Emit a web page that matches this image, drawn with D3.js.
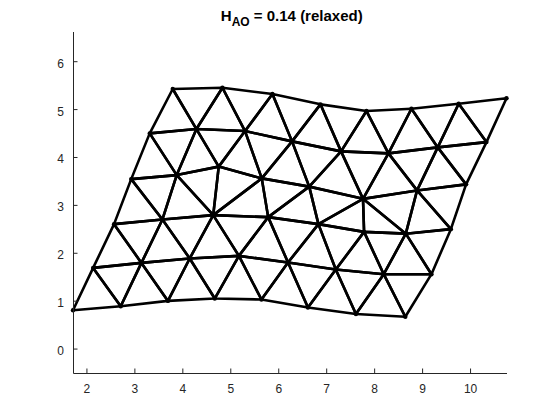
<!DOCTYPE html>
<html>
<head>
<meta charset="utf-8">
<script src="https://cdn.jsdelivr.net/npm/d3@7"></script>
<style>
  html, body { margin: 0; padding: 0; background: #fff; }
  svg { display: block; }
  text { font-family: Arial, "Liberation Sans", Helvetica, sans-serif; }
</style>
</head>
<body>
<svg id="chart" width="560" height="420"></svg>
<script>
// Node positions, 6 rows x 8 columns (row 0 = bottom)
const row0X = [1.72, 2.715, 3.70, 4.676, 5.65, 6.62, 7.62, 8.65];
const row0Y = [0.80, 0.884, 0.995, 1.045, 1.024, 0.857, 0.723, 0.665];
const row1X = [2.14, 3.147, 4.154, 5.18, 6.204, 7.20, 8.20, 9.195];
const row1Y = [1.684, 1.789, 1.881, 1.935, 1.797, 1.651, 1.553, 1.553];
const row2X = [2.576, 3.585, 4.644, 5.79, 6.838, 7.79, 8.66, 9.60];
const row2Y = [2.598, 2.696, 2.786, 2.744, 2.598, 2.437, 2.399, 2.493];
const row3X = [2.934, 3.883, 4.759, 5.656, 6.646, 7.768, 8.895, 9.917];
const row3Y = [3.538, 3.622, 3.799, 3.553, 3.381, 3.126, 3.302, 3.429];
const row4X = [3.32, 4.294, 5.308, 6.288, 7.31, 8.298, 9.326, 10.342];
const row4Y = [4.493, 4.583, 4.541, 4.326, 4.117, 4.075, 4.20, 4.311];
const row5X = [3.80, 4.836, 5.879, 6.88, 7.84, 8.778, 9.763, 10.76];
const row5Y = [5.419, 5.446, 5.315, 5.099, 4.959, 5.007, 5.112, 5.225];
// Quads (lower row, column) whose diagonal is flipped
const flippedQuads = [[2, 2], [2, 3], [2, 4]];

const xTicks = [2, 3, 4, 5, 6, 7, 8, 9, 10];
const yTicks = [0, 1, 2, 3, 4, 5, 6];
const xLimits = [1.72, 10.76];
const yLimits = [-0.51, 6.62];
const titleMain = "H";
const titleSub = "AO";
const titleRest = " = 0.14 (relaxed)";

const rowsX = [row0X, row1X, row2X, row3X, row4X, row5X];
const rowsY = [row0Y, row1Y, row2Y, row3Y, row4Y, row5Y];
const P = (r, c) => [rowsX[r][c], rowsY[r][c]];

// Build triangles
const triangles = [];
const isFlipped = (r, c) => flippedQuads.some(q => q[0] === r && q[1] === c);
for (let r = 0; r < rowsX.length - 1; r++) {
  const n = rowsX[r].length;
  for (let c = 0; c < n - 1; c++) {
    if (isFlipped(r, c)) {
      triangles.push([P(r, c), P(r, c + 1), P(r + 1, c + 1)]);
      triangles.push([P(r, c), P(r + 1, c + 1), P(r + 1, c)]);
    } else {
      triangles.push([P(r, c), P(r, c + 1), P(r + 1, c)]);
      triangles.push([P(r, c + 1), P(r + 1, c + 1), P(r + 1, c)]);
    }
  }
}

const svg = d3.select("#chart");
const mLeft = 73, mRight = 506.5, mTop = 31.5, mBottom = 373;
const x = d3.scaleLinear().domain(xLimits).range([mLeft, mRight]);
const y = d3.scaleLinear().domain(yLimits).range([mBottom, mTop]);
const axisColor = "#262626";

// Mesh
const line = d3.line().x(d => x(d[0])).y(d => y(d[1]));
svg.append("g")
  .selectAll("path")
  .data(triangles)
  .join("path")
  .attr("d", d => line(d) + "Z")
  .attr("fill", "none")
  .attr("stroke", "#000")
  .attr("stroke-width", 2.6)
  .attr("stroke-linejoin", "round")
  .attr("stroke-linecap", "round");

const nodes = [];
rowsX.forEach((rx, r) => rx.forEach((vx, c) => nodes.push([vx, rowsY[r][c]])));
svg.append("g")
  .selectAll("circle")
  .data(nodes)
  .join("circle")
  .attr("cx", d => x(d[0]))
  .attr("cy", d => y(d[1]))
  .attr("r", 2.2)
  .attr("fill", "#000");

// Axes
const xAxis = d3.axisBottom(x).tickValues(xTicks).tickSizeInner(-4.5).tickSizeOuter(0).tickPadding(10);
const yAxis = d3.axisLeft(y).tickValues(yTicks).tickSizeInner(-4.5).tickSizeOuter(0).tickPadding(9);

const gx = svg.append("g").attr("transform", `translate(0,${mBottom})`).call(xAxis);
const gy = svg.append("g").attr("transform", `translate(${mLeft},0)`).call(yAxis);
[gx, gy].forEach(g => {
  g.select(".domain").attr("stroke", axisColor).attr("stroke-width", 1);
  g.selectAll(".tick line").attr("stroke", axisColor);
  g.selectAll(".tick text")
    .attr("fill", axisColor)
    .style("font-size", "12px")
    .style("font-family", "Arial, 'Liberation Sans', sans-serif");
});
gy.selectAll(".tick text").attr("dy", "0.5em");
gx.selectAll(".tick text").attr("dy", "0.8em");

// Title
const title = svg.append("text")
  .attr("x", (mLeft + mRight) / 2 + 2)
  .attr("y", 20.5)
  .attr("text-anchor", "middle")
  .style("font-size", "15px")
  .style("font-weight", "bold")
  .attr("fill", "#000");
title.append("tspan").text(titleMain);
title.append("tspan").attr("dy", 5.5).style("font-size", "12px").text(titleSub);
title.append("tspan").attr("dy", -5.5).text(titleRest);
</script>
</body>
</html>
